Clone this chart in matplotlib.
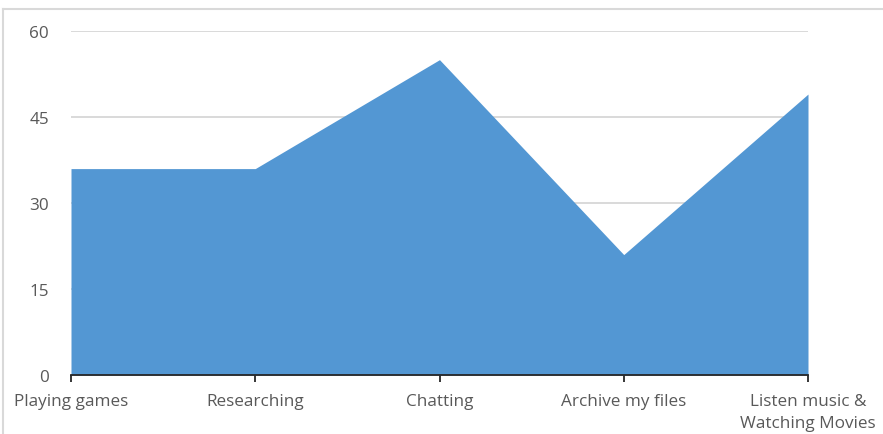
import matplotlib.pyplot as plt
from matplotlib.lines import Line2D

# data
categories = ["Playing games", "Researching", "Chatting", "Archive my files",
              "Listen music &\nWatching Movies"]
values = [36, 36, 55, 21, 49]
y_ticks = [0, 15, 30, 45, 60]

W, H = 883, 435
fig = plt.figure(figsize=(W / 100, H / 100), dpi=100)
ax = fig.add_axes([71 / W, 1 - 376 / H, (808 - 71) / W, (376 - 32) / H])

x = list(range(len(categories)))
ax.fill_between(x, values, 0, color="#5397d3", linewidth=0, zorder=2)

ax.set_xlim(x[0], x[-1])
ax.set_ylim(0, 60)
ax.set_yticks(y_ticks)
ax.set_xticks(x)
ax.set_xticklabels(categories)

# light horizontal gridlines
ax.yaxis.grid(True, color="#d9d9d9", linewidth=1.4, zorder=1)
ax.set_axisbelow(True)

for side in ["top", "right", "left"]:
    ax.spines[side].set_visible(False)
ax.spines["bottom"].set_color("#262626")
ax.spines["bottom"].set_linewidth(1.3)
ax.spines["bottom"].set_zorder(3)

ax.tick_params(axis="y", length=0, pad=16, labelsize=12.3, labelcolor="#595959")
ax.tick_params(axis="x", direction="out", length=5, width=1.3, color="#262626",
               pad=8, labelsize=12.3, labelcolor="#595959")
for lab in ax.get_xticklabels():
    lab.set_family("Open Sans")
    lab.set_linespacing(1.5)
for lab in ax.get_yticklabels():
    lab.set_family("Open Sans")

# chart border (only top and left edges visible in the crop)
fig.add_artist(Line2D([3 / W, 3 / W], [0, 1 - 10 / H], transform=fig.transFigure,
                      color="#d9d9d9", linewidth=1.5))
fig.add_artist(Line2D([3 / W, 1], [1 - 10 / H, 1 - 10 / H], transform=fig.transFigure,
                      color="#d9d9d9", linewidth=1.5))

fig.savefig("out.png", dpi=100)
